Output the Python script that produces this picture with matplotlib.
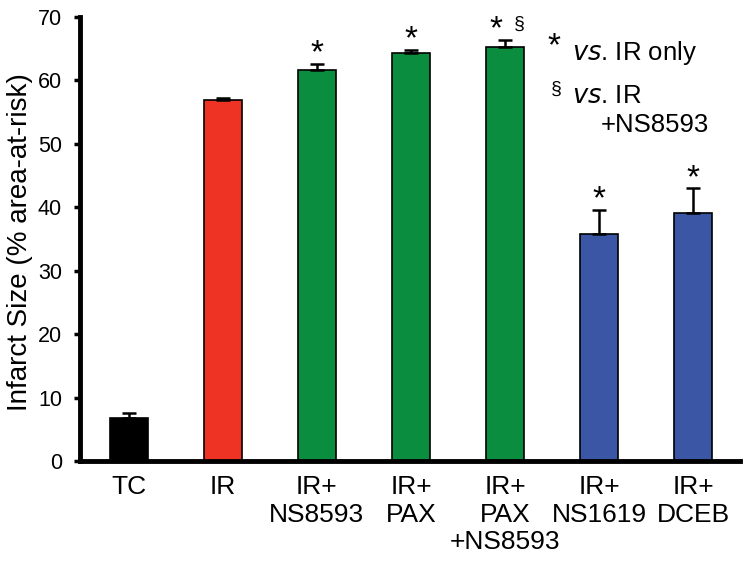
import matplotlib
matplotlib.use("Agg")
import matplotlib.pyplot as plt

categories = ["TC", "IR", "IR+\nNS8593", "IR+\nPAX", "IR+\nPAX\n+NS8593", "IR+\nNS1619", "IR+\nDCEB"]
values = [6.8, 56.9, 61.6, 64.3, 65.3, 35.8, 39.1]
errors = [0.8, 0.4, 1.0, 0.5, 1.1, 3.8, 3.9]
colors = ["#000000", "#EE3325", "#0A8D3E", "#0A8D3E", "#0A8D3E", "#3B56A5", "#3B56A5"]
marks = ["", "", "*", "*", "*", "*", "*"]

plt.rcParams['font.family'] = ['Liberation Sans', 'DejaVu Sans']

W, H = 751, 567
fig = plt.figure(figsize=(W / 100, H / 100), dpi=100)
L, R, T, B = 80, 740, 17, 461
ax = fig.add_axes([L / W, 1 - B / H, (R - L) / W, (B - T) / H])


def fx(px):
    return px / W


def fy(py):
    return 1 - py / H


x = list(range(len(categories)))
ax.bar(x, values, width=0.41, color=colors, edgecolor="black", linewidth=1.2, zorder=2)
ax.errorbar(x, values, yerr=[[0] * len(errors), errors], fmt="none", ecolor="black",
            elinewidth=1.8, capsize=4.7, capthick=1.8, zorder=3)

for i, (xi, v, e, m) in enumerate(zip(x, values, errors, marks)):
    if m:
        shift = -0.1 if i == 4 else 0.0
        ax.text(xi + shift, v + e + 0.2, m, ha="center", va="baseline", fontsize=24)
ax.text(4 + 0.09, values[4] + errors[4] + 1.8, "§", ha="left", va="baseline", fontsize=14)

ax.set_xlim(-0.52, 6.5)
ax.set_ylim(0, 70)
ax.set_yticks(range(0, 71, 10))
ax.set_xticks(x)
ax.set_xticklabels(categories, fontsize=19, linespacing=1.2)
ax.tick_params(axis="x", length=0, pad=10)
ax.tick_params(axis="y", labelsize=15.5, length=4, width=2.5, direction="out", pad=9)
for s in ["top", "right"]:
    ax.spines[s].set_visible(False)
for s in ["left", "bottom"]:
    ax.spines[s].set_linewidth(3.5)

fig.text(fx(20), fy(242), "Infarct Size (% area-at-risk)", fontsize=20, rotation=90,
         ha="center", va="center")

# legend text
fig.text(fx(547), fy(55), "*", fontsize=24, ha="left", va="baseline")
fig.text(fx(572), fy(60), r"$\it{vs}$. IR only", fontsize=18.5, ha="left", va="baseline")
fig.text(fx(551), fy(94), "§", fontsize=14, ha="left", va="baseline")
fig.text(fx(572), fy(103), r"$\it{vs}$. IR", fontsize=18.5, ha="left", va="baseline")
fig.text(fx(601), fy(132), "+NS8593", fontsize=18.5, ha="left", va="baseline")

fig.savefig("out.png", dpi=100)
